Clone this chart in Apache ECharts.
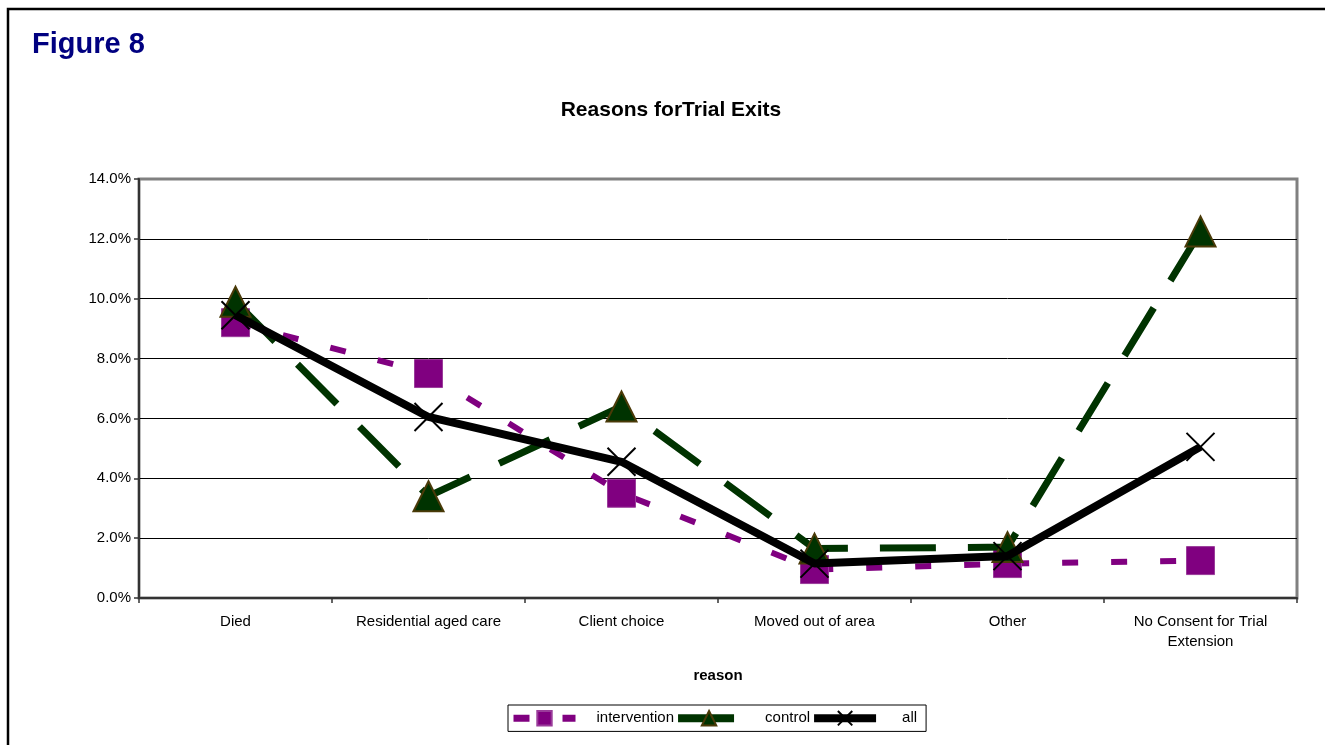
<!DOCTYPE html>
<html>
<head>
<meta charset="utf-8">
<title>Figure 8 - Reasons for Trial Exits</title>
<script src="https://cdn.jsdelivr.net/npm/echarts@6/dist/echarts.min.js"></script>
<style>
  html, body { margin: 0; padding: 0; background: #ffffff; }
  #chart { width: 1325px; height: 745px; }
</style>
</head>
<body>
<div id="chart"></div>
<script>
// Exit reasons (x categories)
const categories = [
  'Died',
  'Residential aged care',
  'Client choice',
  'Moved out of area',
  'Other',
  'No Consent for Trial\nExtension'
];

// Percent of participants exiting for each reason
const intervention = [9.2, 7.5, 3.5, 0.95, 1.15, 1.25];
const control      = [9.9, 3.4, 6.4, 1.65, 1.7, 12.25];
const all          = [9.45, 6.05, 4.55, 1.15, 1.4, 5.05];

// Y axis range, in percent
const yMin = 0;
const yMax = 14;
const yStep = 2;

const FONT = 'Liberation Sans, Arial, sans-serif';
const crossSymbol = 'path://M0,0L10,10M10,0L0,10';

const chart = echarts.init(document.getElementById('chart'), null, { renderer: 'canvas' });

chart.setOption({
  animation: false,
  backgroundColor: '#ffffff',
  textStyle: { fontFamily: FONT },
  graphic: [
    {
      type: 'rect',
      shape: { x: 8, y: 9, width: 1340, height: 760 },
      style: { fill: 'none', stroke: '#000000', lineWidth: 2.5 },
      silent: true
    },
    {
      type: 'text',
      style: {
        x: 32, y: 45, text: 'Figure 8',
        font: 'bold 29px ' + FONT,
        fill: '#000080',
        verticalAlign: 'middle'
      }
    },
    {
      type: 'text',
      style: {
        x: 671, y: 110, text: 'Reasons forTrial Exits',
        font: 'bold 21px ' + FONT,
        fill: '#000000',
        align: 'center',
        verticalAlign: 'middle'
      }
    }
  ],
  grid: {
    left: 139, right: 28, top: 179, bottom: 147,
    show: true,
    borderColor: '#808080',
    borderWidth: 3,
    backgroundColor: 'transparent',
    containLabel: false
  },
  legend: {
    left: 508,
    top: 705,
    orient: 'horizontal',
    itemGap: 0,
    itemWidth: 62,
    itemHeight: 18,
    padding: [5, 9, 5, 2],
    borderColor: '#000000',
    borderWidth: 1,
    backgroundColor: '#ffffff',
    textStyle: { fontSize: 15, color: '#000000', fontFamily: FONT },
    data: [
      { name: 'intervention', lineStyle: { width: 7 }, textStyle: { padding: [0, 4, 0, 16] } },
      { name: 'control', lineStyle: { width: 8 }, textStyle: { padding: [0, 9, 0, 20] } },
      { name: 'all', lineStyle: { width: 8 }, textStyle: { padding: [0, 0, 0, 21] } }
    ]
  },
  xAxis: {
    type: 'category',
    data: categories,
    boundaryGap: true,
    name: 'reason',
    nameLocation: 'middle',
    nameGap: 70,
    nameTextStyle: { fontSize: 15, fontWeight: 'bold', color: '#000000', fontFamily: FONT },
    axisLine: { lineStyle: { color: '#333333', width: 2 } },
    axisTick: { show: true, length: 5, lineStyle: { color: '#333333', width: 1.5 } },
    axisLabel: {
      fontSize: 15, color: '#000000', margin: 14, lineHeight: 20,
      interval: 0, fontFamily: FONT
    },
    splitLine: { show: false }
  },
  yAxis: {
    type: 'value',
    min: yMin,
    max: yMax,
    interval: yStep,
    axisLine: { show: true, lineStyle: { color: '#333333', width: 2 } },
    axisTick: { show: true, length: 5, lineStyle: { color: '#333333', width: 1.5 } },
    axisLabel: {
      fontSize: 15, color: '#000000', margin: 8, fontFamily: FONT,
      formatter: v => v.toFixed(1) + '%'
    },
    splitLine: {
      show: true,
      showMinLine: false,
      showMaxLine: false,
      lineStyle: { color: '#000000', width: 1 }
    }
  },
  series: [
    {
      name: 'intervention',
      type: 'line',
      data: intervention,
      symbol: 'rect',
      symbolSize: 28,
      color: '#800080',
      itemStyle: { color: '#800080', borderColor: '#9a3c9a', borderWidth: 1 },
      lineStyle: { color: '#800080', width: 6, type: [16, 33], cap: 'butt' },
      z: 2
    },
    {
      name: 'control',
      type: 'line',
      data: control,
      symbol: 'triangle',
      symbolSize: 30,
      color: '#003300',
      itemStyle: { color: '#003300', borderColor: '#4a3a08', borderWidth: 2 },
      lineStyle: { color: '#003300', width: 7, type: [56, 32], cap: 'butt' },
      z: 3
    },
    {
      name: 'all',
      type: 'line',
      data: all,
      symbol: crossSymbol,
      symbolSize: 28,
      color: '#000000',
      itemStyle: { color: '#000000', borderColor: '#000000', borderWidth: 2 },
      lineStyle: { color: '#000000', width: 8 },
      z: 4
    }
  ]
});
</script>
</body>
</html>
